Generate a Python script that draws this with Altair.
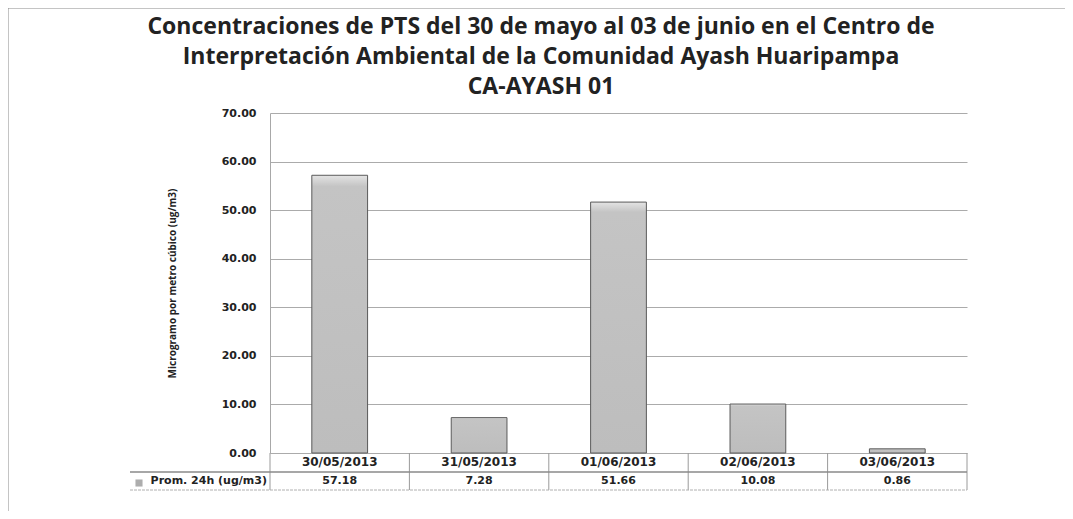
import altair as alt
import pandas as pd

dates = ["30/05/2013", "31/05/2013", "01/06/2013", "02/06/2013", "03/06/2013"]
values = [57.18, 7.28, 51.66, 10.08, 0.86]
value_labels = ["57.18", "7.28", "51.66", "10.08", "0.86"]
title_lines = [
    "Concentraciones de PTS del 30 de mayo al 03 de junio en el Centro de",
    "Interpretación Ambiental de la Comunidad Ayash Huaripampa",
    "CA-AYASH 01",
]
y_title = "Microgramo por metro cúbico (ug/m3)"
row_label = "Prom. 24h (ug/m3)"

W, H = 697, 340
df = pd.DataFrame({"date": dates, "value": values, "label": value_labels})

xenc = alt.X("date:N", sort=dates, axis=None, scale=alt.Scale(paddingInner=0, paddingOuter=0))

base = alt.Chart(df)

bars = base.mark_bar(
    width=alt.RelativeBandSize(0.4),
    fill=alt.Gradient(
        gradient="linear",
        stops=[
            alt.GradientStop(color="#e4e4e4", offset=0),
            alt.GradientStop(color="#c4c4c4", offset=0.04),
            alt.GradientStop(color="#bdbdbd", offset=1),
        ],
        x1=0, x2=0, y1=0, y2=1,
    ),
    stroke="#5a5a5a",
    strokeWidth=1,
).encode(
    x=xenc,
    y=alt.Y(
        "value:Q",
        scale=alt.Scale(domain=[0, 70]),
        axis=alt.Axis(
            values=[0, 10, 20, 30, 40, 50, 60, 70],
            format=".2f",
            title=y_title,
            titleFont="Open Sans",
            titleFontWeight="bold",
            titleFontSize=10,
            titleColor="#222",
            titleX=-98,
            titleY=H / 2,
            titleBaseline="middle",
            labelFont="DejaVu Sans",
            labelFontWeight="bold",
            labelFontSize=11,
            labelColor="#222",
            labelPadding=14,
            ticks=False,
            grid=True,
            gridColor="#ababab",
            gridWidth=1,
            domainColor="#a8a8a8",
        ),
    ),
)

date_text = base.mark_text(
    font="DejaVu Sans", fontWeight="bold", fontSize=12, color="#222", baseline="middle"
).encode(x=xenc, y=alt.value(349), text="date:N")

val_text = base.mark_text(
    font="DejaVu Sans", fontWeight="bold", fontSize=11, color="#222", baseline="middle"
).encode(x=xenc, y=alt.value(368), text="label:N")

seps = base.mark_rule(color="#9a9a9a", strokeWidth=1).encode(
    x=alt.X("date:N", sort=dates, axis=None, bandPosition=0),
    y=alt.value(340),
    y2=alt.value(377),
)
one = pd.DataFrame({"a": [0]})
end_sep = alt.Chart(one).mark_rule(color="#9a9a9a", strokeWidth=1).encode(
    x=alt.value(W), y=alt.value(340), y2=alt.value(377)
)

mid_line = alt.Chart(one).mark_rule(color="#8a8a8a", strokeWidth=1.5).encode(
    x=alt.value(-140), x2=alt.value(W), y=alt.value(359)
)
bot_line = alt.Chart(one).mark_rule(color="#b0b0b0", strokeWidth=1, strokeDash=[3, 1]).encode(
    x=alt.value(-140), x2=alt.value(W), y=alt.value(377)
)

row_text = alt.Chart(pd.DataFrame({"t": [row_label]})).mark_text(
    font="DejaVu Sans", fontWeight="bold", fontSize=11, color="#222", align="right", baseline="middle"
).encode(x=alt.value(-3), y=alt.value(368), text="t:N")

key = alt.Chart(one).mark_point(shape="square", filled=True, size=50, color="#8a8a8a").encode(
    x=alt.value(-131), y=alt.value(370)
)

title_layers = []
for i, line in enumerate(title_lines):
    title_layers.append(
        alt.Chart(pd.DataFrame({"t": [line]})).mark_text(
            font="Open Sans", fontWeight="bold", fontSize=23, color="#222", align="center", baseline="middle"
        ).encode(x=alt.value(271), y=alt.value(-86 + 30 * i), text="t:N")
    )

frame_left = alt.Chart(one).mark_rule(color="#8a8a8a", strokeWidth=1).encode(
    x=alt.value(-262), y=alt.value(-105), y2=alt.value(410)
)
frame_top = alt.Chart(one).mark_rule(color="#8a8a8a", strokeWidth=1).encode(
    x=alt.value(-262), x2=alt.value(810), y=alt.value(-105)
)

chart = alt.layer(
    bars, seps, end_sep, mid_line, bot_line, date_text, val_text, row_text, key,
    frame_left, frame_top, *title_layers
).properties(
    width=W,
    height=H,
    autosize=alt.AutoSizeParams(type="none"),
    padding={"left": 262, "top": 105, "right": 98, "bottom": 58},
).configure_view(stroke=None)

chart.save("out.html", embed_options={"renderer": "svg", "actions": False})
